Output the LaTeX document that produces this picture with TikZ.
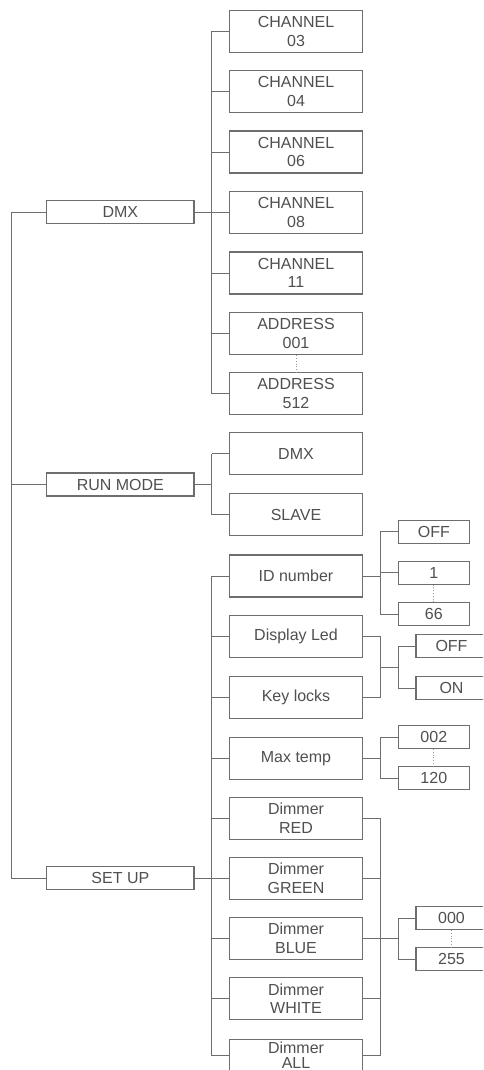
\documentclass[tikz,border=0pt]{standalone}
\usepackage{fontspec}
\setmainfont{Liberation Sans}
\definecolor{ln}{HTML}{6E6E6E}
\definecolor{tx}{HTML}{505050}
\begin{document}
\begin{tikzpicture}[x=1pt,y=-1pt,
  every node/.style={font=\fontsize{16}{18.7}\selectfont, text=tx},
  box/.style={draw=ln, line width=1.1pt, inner sep=0pt, align=center, fill=white},
  lone/.style={box, minimum width=147.3pt, minimum height=23pt},
  ltwo/.style={box, minimum width=133.3pt, minimum height=42pt},
  lthree/.style={box, minimum width=71pt, minimum height=23pt},
  conn/.style={draw=ln, line width=1pt},
  dots/.style={draw=ln!70, line width=0.8pt, dotted}]
\useasboundingbox (0,0) rectangle (483,1070);
\clip (0,0) rectangle (483,1070);
% bus coordinates
\coordinate (bL) at (11.7,0);
\coordinate (bA) at (211.7,0);
\coordinate (bB) at (380,0);
\coordinate (bC) at (398.3,0);
% level 1
\node[lone] (dmx) at (120.35,212) {DMX};
\node[lone] (run) at (120.35,484.5) {RUN MODE};
\node[lone] (setup) at (120.35,878.3) {SET UP};
% level 2
\node[ltwo] (ch03) at (296,31.2) {CHANNEL\\03};
\node[ltwo] (ch04) at (296,91.3) {CHANNEL\\04};
\node[ltwo] (ch06) at (296,152) {CHANNEL\\06};
\node[ltwo] (ch08) at (296,212.3) {CHANNEL\\08};
\node[ltwo] (ch11) at (296,273) {CHANNEL\\11};
\node[ltwo] (a001) at (296,333.7) {ADDRESS\\001};
\node[ltwo] (a512) at (296,393.7) {ADDRESS\\512};
\node[ltwo] (rdmx) at (296,453.8) {DMX};
\node[ltwo] (slave) at (296,514.8) {SLAVE};
\node[ltwo] (id) at (296,576) {ID number};
\node[ltwo] (disp) at (296,636.7) {Display Led};
\node[ltwo] (key) at (296,697.8) {Key locks};
\node[ltwo] (maxt) at (296,758.2) {Max temp};
\node[ltwo] (dred) at (296,818.3) {Dimmer\\RED};
\node[ltwo] (dgreen) at (296,878.3) {Dimmer\\GREEN};
\node[ltwo] (dblue) at (296,938.5) {Dimmer\\BLUE};
\node[ltwo] (dwhite) at (296,998.7) {Dimmer\\WHITE};
\node[ltwo, minimum height=32pt] (dall) at (296,1055.5) {Dimmer\\[-4pt]ALL};
% level 3
\node[lthree] (off1) at (433.8,531.7) {OFF};
\node[lthree] (one) at (433.8,572.6) {1};
\node[lthree] (n66) at (433.8,614) {66};
\node[lthree] (off2) at (451.5,646) {OFF};
\node[lthree] (on) at (451.5,688) {ON};
\node[lthree] (t002) at (433.8,737) {002};
\node[lthree] (t120) at (433.8,778.3) {120};
\node[lthree] (v000) at (451.5,918) {000};
\node[lthree] (v255) at (451.5,959.2) {255};
% main bus
\draw[conn] (dmx.west) -- (dmx.west -| bL) -- (setup.west -| bL) -- (setup.west);
\draw[conn] (run.west) -- (run.west -| bL);
% DMX branch
\draw[conn] (dmx.east) -- (dmx.east -| bA);
\draw[conn] (ch03.west -| bA) -- (a512.west -| bA);
\foreach \n in {ch03,ch04,ch06,ch08,ch11,a001,a512}
  \draw[conn] (\n.west) -- (\n.west -| bA);
% RUN MODE branch
\draw[conn] (run.east) -- (run.east -| bA);
\draw[conn] (rdmx.west -| bA) -- (slave.west -| bA);
\foreach \n in {rdmx,slave}
  \draw[conn] (\n.west) -- (\n.west -| bA);
% SET UP branch
\draw[conn] (setup.east) -- (setup.east -| bA);
\draw[conn] (id.west -| bA) -- (dall.west -| bA);
\foreach \n in {id,disp,key,maxt,dred,dgreen,dblue,dwhite,dall}
  \draw[conn] (\n.west) -- (\n.west -| bA);
% ID number
\draw[conn] (id.east) -- (id.east -| bB);
\draw[conn] (off1.west -| bB) -- (n66.west -| bB);
\foreach \n in {off1,one,n66}
  \draw[conn] (\n.west) -- (\n.west -| bB);
% Display Led / Key locks
\coordinate (dk) at (380,667.3);
\draw[conn] (disp.east) -- (disp.east -| bB) -- (key.east -| bB) -- (key.east);
\draw[conn] (dk) -- (dk -| bC);
\draw[conn] (off2.west -| bC) -- (on.west -| bC);
\foreach \n in {off2,on}
  \draw[conn] (\n.west) -- (\n.west -| bC);
% Max temp
\draw[conn] (maxt.east) -- (maxt.east -| bB);
\draw[conn] (t002.west -| bB) -- (t120.west -| bB);
\foreach \n in {t002,t120}
  \draw[conn] (\n.west) -- (\n.west -| bB);
% Dimmers
\draw[conn] (dred.east -| bB) -- (dall.east -| bB);
\foreach \n in {dred,dgreen,dblue,dwhite,dall}
  \draw[conn] (\n.east) -- (\n.east -| bB);
\draw[conn] (dblue.east -| bB) -- (dblue.east -| bC);
\draw[conn] (v000.west -| bC) -- (v255.west -| bC);
\foreach \n in {v000,v255}
  \draw[conn] (\n.west) -- (\n.west -| bC);
% dotted continuations
\draw[dots] (a001.south) -- (a512.north);
\draw[dots] (one.south) -- (n66.north);
\draw[dots] (t002.south) -- (t120.north);
\draw[dots] (v000.south) -- (v255.north);
\end{tikzpicture}
\end{document}
